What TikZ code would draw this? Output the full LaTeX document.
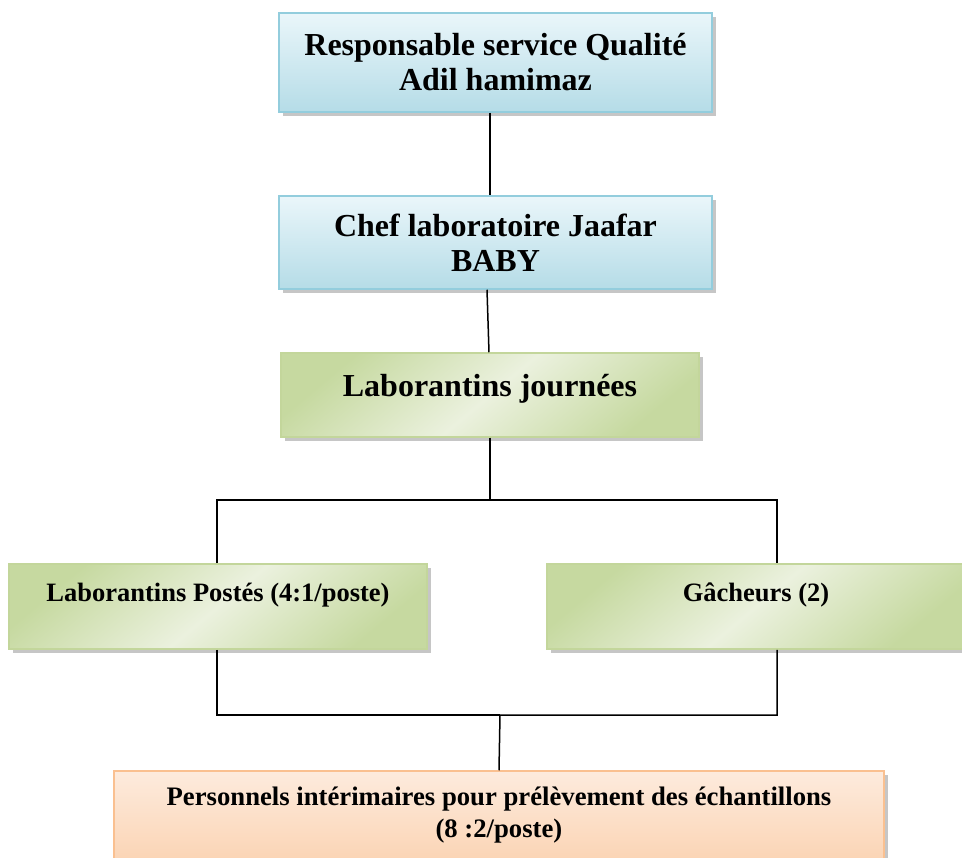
\documentclass[tikz,border=0pt]{standalone}
\usepackage{fontspec}
\setmainfont{Liberation Serif}
\usetikzlibrary{shadows}
\definecolor{bluebrd}{HTML}{93CDDD}
\definecolor{bluetop}{HTML}{EAF6FA}
\definecolor{bluebot}{HTML}{B5DCE7}
\definecolor{grnbrd}{HTML}{C3D69B}
\definecolor{grndark}{HTML}{C6D9A0}
\definecolor{grnlight}{HTML}{EBF1DE}
\definecolor{orgbrd}{HTML}{FAC090}
\definecolor{orgtop}{HTML}{FDEBDD}
\definecolor{orgbot}{HTML}{FBD3B2}
\tikzset{box/.style={draw,line width=1.5pt,inner sep=0pt,
    drop shadow={shadow xshift=4pt,shadow yshift=-4pt,fill=gray!45,opacity=1}},
  bluebox/.style={box,draw=bluebrd,top color=bluetop,bottom color=bluebot},
  greenbox/.style={box,draw=grnbrd,top color=grndark,bottom color=grndark,middle color=grnlight,shading angle=40},
  orangebox/.style={box,draw=orgbrd,top color=orgtop,bottom color=orgbot},
  lbl/.style={align=center,inner sep=0pt,font=\bfseries\fontsize{32}{35}\selectfont},
  small/.style={font=\bfseries\fontsize{26.5}{30}\selectfont},
  link/.style={line width=1.5pt}}

\begin{document}
\begin{tikzpicture}[x=1pt,y=-1pt]
\useasboundingbox (0,0) rectangle (962,858);
% boxes
\node[bluebox,minimum width=433,minimum height=99] (b1) at (495.5,62.5) {};
\node[bluebox,minimum width=433,minimum height=93] (b2) at (495.5,242.5) {};
\node[greenbox,minimum width=418,minimum height=84] (b3) at (490,395) {};
\node[greenbox,minimum width=418,minimum height=85] (b4) at (218,606.5) {};
\node[greenbox,minimum width=418,minimum height=85] (b5) at (756,606.5) {};
\node[orangebox,minimum width=770,minimum height=96] (b6) at (499,819) {};
% texts
\node[lbl] (t1) at (b1.center) {Responsable service Qualité\\Adil hamimaz};
\node[lbl] (t2) at (b2.center) {Chef laboratoire Jaafar\\BABY};
\node[lbl] (t3) at ([yshift=6pt]b3.center) {Laborantins journées};
\node[lbl,small] (t4) at ([yshift=11.5pt]b4.center) {Laborantins Postés (4:1/poste)};
\node[lbl,small] (t5) at ([yshift=11.5pt]b5.center) {Gâcheurs (2)};
\node[lbl,font=\bfseries\fontsize{26.7}{32}\selectfont] (t6) at ([yshift=3.5pt]b6.center)
  {Personnels intérimaires pour prélèvement des échantillons\\(8 :2/poste)};
% links
\coordinate (j1) at (490,500);
\coordinate (j2) at (500,715);
\draw[link] ([xshift=-5.5pt]b1.south) -- ([xshift=-5.5pt]b2.north);
\draw[link] ([xshift=-8.5pt]b2.south) -- ([xshift=-1pt]b3.north);
\draw[link] (b3.south) -- (j1);
\draw[link] ([xshift=-1pt]b4.north) |- (j1) -| ([xshift=21pt]b5.north);
\draw[link] ([xshift=-1pt]b4.south) |- (j2);
\draw[link] ([xshift=21pt]b5.south) |- (j2) -- (b6.north);
\end{tikzpicture}
\end{document}
